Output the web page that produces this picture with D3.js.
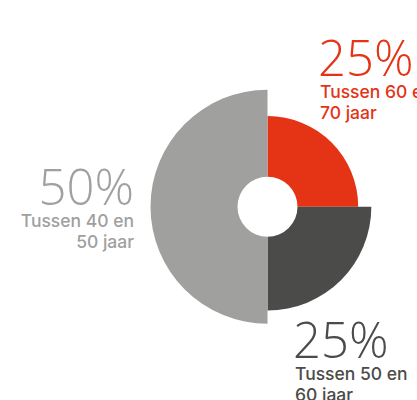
<!DOCTYPE html>
<html><head><meta charset="utf-8">
<script src="https://cdn.jsdelivr.net/npm/d3@7"></script>
<style>html,body{margin:0;padding:0;background:#fff;overflow:hidden}</style>
</head><body>
<svg id="c" width="417" height="400"></svg>
<script>
const categories = ["Tussen 60 en 70 jaar", "Tussen 50 en 60 jaar", "Tussen 40 en 50 jaar"];
const values = [25, 25, 50];
const pctLabels = ["25%", "25%", "50%"];
const labelLines = [["Tussen 60 en", "70 jaar"], ["Tussen 50 en", "60 jaar"], ["Tussen 40 en", "50 jaar"]];
const colors = ["#e43415", "#4b4b49", "#a0a09f"];

const svg = d3.select("#c");
const cx = 267.5, cy = 206.7;
const g = svg.append("g").attr("transform", `translate(${cx},${cy})`);

const pie = d3.pie().sort(null).value(d => d)(values);
const rScale = d3.scaleLinear().domain([0, 2]).range([90.7, 117]);

g.selectAll("path").data(pie).join("path")
  .attr("d", (d, i) => d3.arc().innerRadius(30).outerRadius(rScale(i))(d))
  .attr("fill", (d, i) => colors[i]);

const labelPos = [
  {x: 318, y: 76, anchor: "start"},
  {x: 293, y: 358, anchor: "start"},
  {x: 134, y: 205, anchor: "end"}
];
const font = "'Open Sans', 'Liberation Sans', Arial, sans-serif";
const font2 = "Inter, 'Open Sans', sans-serif";
labelPos.forEach((p, i) => {
  svg.append("text").attr("x", p.x).attr("y", p.y).attr("text-anchor", p.anchor)
    .attr("fill", colors[i]).style("font-family", font).style("font-weight", 300)
    .style("font-size", "49px").text(pctLabels[i]);
  labelLines[i].forEach((ln, j) => {
    svg.append("text").attr("x", p.x + (p.anchor === "start" ? 2 : 0)).attr("y", p.y + 22 + j * 20.5)
      .attr("text-anchor", p.anchor).attr("fill", colors[i])
      .style("font-family", font2).style("font-weight", 500).style("font-size", "17.5px").text(ln);
  });
});
</script>
</body></html>
